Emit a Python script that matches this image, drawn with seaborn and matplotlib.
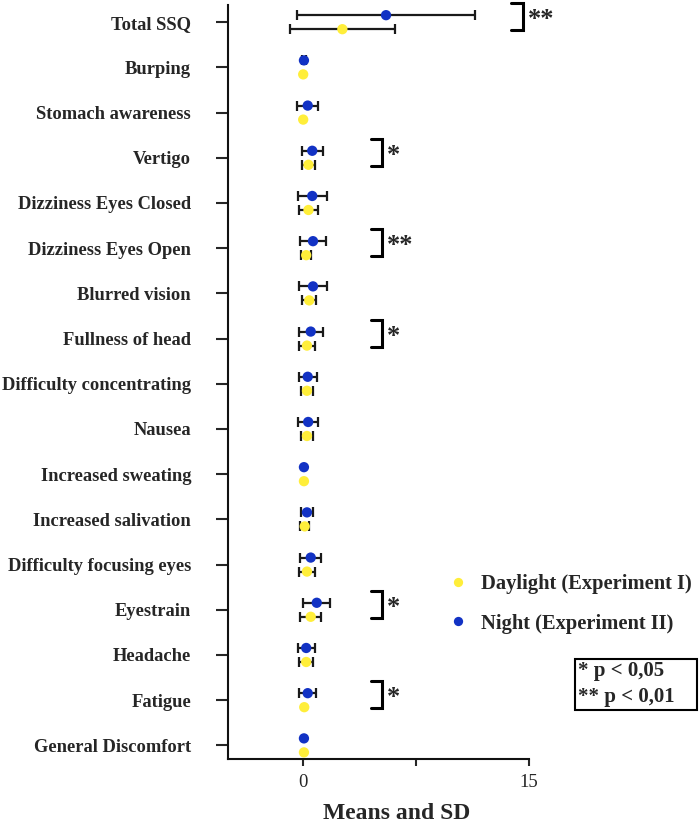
import numpy as np
import pandas as pd
import matplotlib
matplotlib.use("Agg")
import matplotlib.pyplot as plt
import matplotlib.patches as mpatches
import seaborn as sns

categories = ["Total SSQ", "Burping", "Stomach awareness", "Vertigo",
              "Dizziness Eyes Closed", "Dizziness Eyes Open", "Blurred vision",
              "Fullness of head", "Difficulty concentrating", "Nausea",
              "Increased sweating", "Increased salivation",
              "Difficulty focusing eyes", "Eyestrain", "Headache", "Fatigue",
              "General Discomfort"]

day_mean = [2.6, 0.0, 0.0, 0.35, 0.35, 0.2, 0.4, 0.25, 0.25, 0.25, 0.05, 0.1,
            0.25, 0.5, 0.2, 0.07, 0.05]
day_sd = [3.5, 0.0, 0.0, 0.45, 0.6, 0.33, 0.45, 0.55, 0.4, 0.37, 0.0, 0.28,
          0.55, 0.7, 0.48, 0.0, 0.0]
night_mean = [5.5, 0.05, 0.3, 0.6, 0.6, 0.65, 0.65, 0.5, 0.3, 0.33, 0.05, 0.25,
              0.5, 0.9, 0.2, 0.3, 0.05]
night_sd = [5.9, 0.12, 0.7, 0.7, 0.95, 0.85, 0.9, 0.8, 0.6, 0.65, 0.0, 0.4,
            0.7, 0.9, 0.57, 0.57, 0.0]

day_label = "Daylight (Experiment I)"
night_label = "Night (Experiment II)"

# significance markers per category
sig_rows = {"Total SSQ": "**", "Vertigo": "*", "Dizziness Eyes Open": "**",
            "Fullness of head": "*", "Eyestrain": "*", "Fatigue": "*"}

xticks = [0, 7.5, 15]
xticklabels = ["0", "", "15"]

sns.set_style("ticks")
plt.rcParams["font.family"] = ["Liberation Serif", "DejaVu Serif"]

n = len(categories)
idx = np.arange(n)
off = 0.155
df = pd.DataFrame({
    "category": categories * 2,
    "condition": [day_label] * n + [night_label] * n,
    "mean": day_mean + night_mean,
    "sd": day_sd + night_sd,
    "pos": list(idx + off) + list(idx - off),
})

fig = plt.figure(figsize=(6.99, 8.34), dpi=100)
ax = fig.add_axes([0.326, 0.09, 0.431, 0.904])

err = df[df["sd"] > 0]
ax.errorbar(err["mean"], err["pos"], xerr=err["sd"], fmt="none",
            ecolor="#1a1a1a", elinewidth=1.6, capsize=3.6, capthick=1.6, zorder=2)

palette = {day_label: "#FFEE3A", night_label: "#1232C4"}
sns.scatterplot(data=df, x="mean", y="pos", hue="condition", palette=palette,
                s=55, edgecolor="none", linewidth=0, zorder=3, ax=ax,
                hue_order=[day_label, night_label])

ax.set_xlim(-5, 15)
ax.set_ylim(16.3, -0.38)
ax.set_yticks(idx)
ax.set_yticklabels(categories, fontweight="bold", fontsize=13.3)
ax.set_xticks(xticks)
ax.set_xticklabels(xticklabels, fontsize=13.5)
ax.tick_params(axis="y", length=9, width=1.5, direction="out", pad=17.5)
ax.tick_params(axis="x", length=5, width=1.5, direction="out", pad=6)
ax.set_xlabel("")
ax.set_ylabel("")
for s in ["top", "right"]:
    ax.spines[s].set_visible(False)
for s in ["left", "bottom"]:
    ax.spines[s].set_linewidth(1.5)
    ax.spines[s].set_color("#111111")

# significance brackets
for cat, stars in sig_rows.items():
    i = categories.index(cat)
    if cat == "Total SSQ":
        xv, xa = 14.6, 13.8
    else:
        xv, xa = 5.26, 4.5
    y0, y1 = i - 0.42, i + 0.18
    ax.plot([xa, xv, xv, xa], [y0, y0, y1, y1], color="black", lw=2.2,
            solid_joinstyle="miter", clip_on=False, zorder=4)
    ax.text(xv + 0.3, i - 0.05, stars, fontsize=19, fontweight="bold",
            va="center", ha="left", clip_on=False)

# legend
handles, labels = ax.get_legend_handles_labels()
if ax.legend_:
    ax.legend_.remove()
fig.legend(handles, labels, loc="upper left", bbox_to_anchor=(0.617, 0.319),
           frameon=False, prop={"weight": "bold", "size": 14.8},
           handletextpad=0.12, labelspacing=0.95, markerscale=0.9,
           borderaxespad=0, borderpad=0.3)

# p-value box
fig.patches.append(mpatches.Rectangle((575 / 699, 1 - 710 / 834), 122 / 699,
                                      51 / 834, transform=fig.transFigure,
                                      fc="white", ec="black", lw=1.5,
                                      figure=fig))
fig.text(578 / 699, 1 - 671 / 834, "* p < 0,05", fontsize=15,
         fontweight="bold", va="center", ha="left")
fig.text(578 / 699, 1 - 697 / 834, "** p < 0,01", fontsize=15,
         fontweight="bold", va="center", ha="left")

fig.text(0.567, 0.025, "Means and SD", fontsize=17, fontweight="bold",
         ha="center", va="center")

fig.savefig("out.png", dpi=100)
